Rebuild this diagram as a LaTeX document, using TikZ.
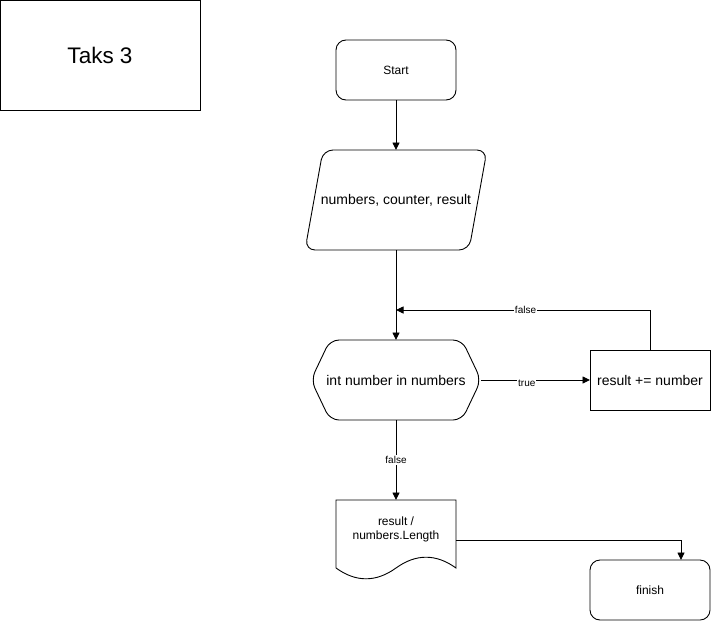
\documentclass[tikz,border=0pt]{standalone}
\usepackage{fontspec}
\setmainfont{Liberation Sans}
\usetikzlibrary{arrows.meta}
\begin{document}
\begin{tikzpicture}[x=1pt,y=-1pt,
  shapeline/.style={draw=black,line width=0.9pt},
  conn/.style={draw=black,line width=0.9pt,-{Triangle[length=7.5pt,width=7pt]}},
  elabel/.style={fill=white,inner sep=1pt,font=\fontsize{10}{12}\selectfont},
  txt12/.style={font=\fontsize{12}{14}\selectfont,align=center},
  txt14/.style={font=\fontsize{14}{17}\selectfont,align=center}]
\useasboundingbox (0,0) rectangle (711,621);

% title box
\draw[shapeline] (0.5,0.5) rectangle (200,110);
\node[font=\fontsize{22.5}{26}\selectfont] (title) at (100,55) {Taks 3};

% start terminal
\draw[shapeline,rounded corners=10pt] (336,40) rectangle (456,100);
\node[txt12] (start) at (396,70) {Start};
\coordinate (startB) at (396,100);

% input parallelogram
\draw[shapeline,rounded corners=10pt] (323,150) -- (487,150) -- (469,250) -- (305,250) -- cycle;
\node[txt14] (input) at (396,200) {numbers, counter, result};
\coordinate (inputT) at (396,150);
\coordinate (inputB) at (396,250);

% loop hexagon
\draw[shapeline,rounded corners=9pt] (311,380) -- (330,340) -- (462,340) -- (481,380) -- (462,420) -- (330,420) -- cycle;
\node[txt14] (loop) at (396,380) {int number in numbers};
\coordinate (loopT) at (396,340);
\coordinate (loopB) at (396,420);
\coordinate (loopR) at (481,380);

% accumulate step
\draw[shapeline] (590,350) rectangle (710,410);
\node[txt14] (acc) at (650,380) {result += number};
\coordinate (accL) at (590,380);
\coordinate (accT) at (650,350);

% output document
\draw[shapeline] (336,568) -- (336,500) -- (456,500) -- (456,568)
  .. controls (436,553.6) and (416,553.6) .. (396,568)
  .. controls (376,582.4) and (356,582.4) .. (336,568);
\node[txt12] (out) at (396,529) {result /\\numbers.Length};
\coordinate (outT) at (396,500);
\coordinate (outR) at (456,540);

% finish terminal
\draw[shapeline,rounded corners=10pt] (590,560) rectangle (710,620);
\node[txt12] (finish) at (650,590) {finish};
\coordinate (finishT) at (681,560);

% connectors
\coordinate (merge) at (396,310);
\coordinate (backUp) at (650,310);
\draw[conn] (startB) -- (inputT);
\draw[conn] (inputB) -- (loopT);
\draw[conn] (accT) -- (backUp) -- node[elabel,pos=0.49] (lfalse1) {false} (merge);
\draw[conn] (loopR) -- node[elabel,pos=0.42,yshift=-3pt] (ltrue) {true} (accL);
\draw[conn] (loopB) -- node[elabel,pos=0.5] (lfalse2) {false} (outT);
\draw[conn] (outR) -| (finishT);
\end{tikzpicture}
\end{document}
